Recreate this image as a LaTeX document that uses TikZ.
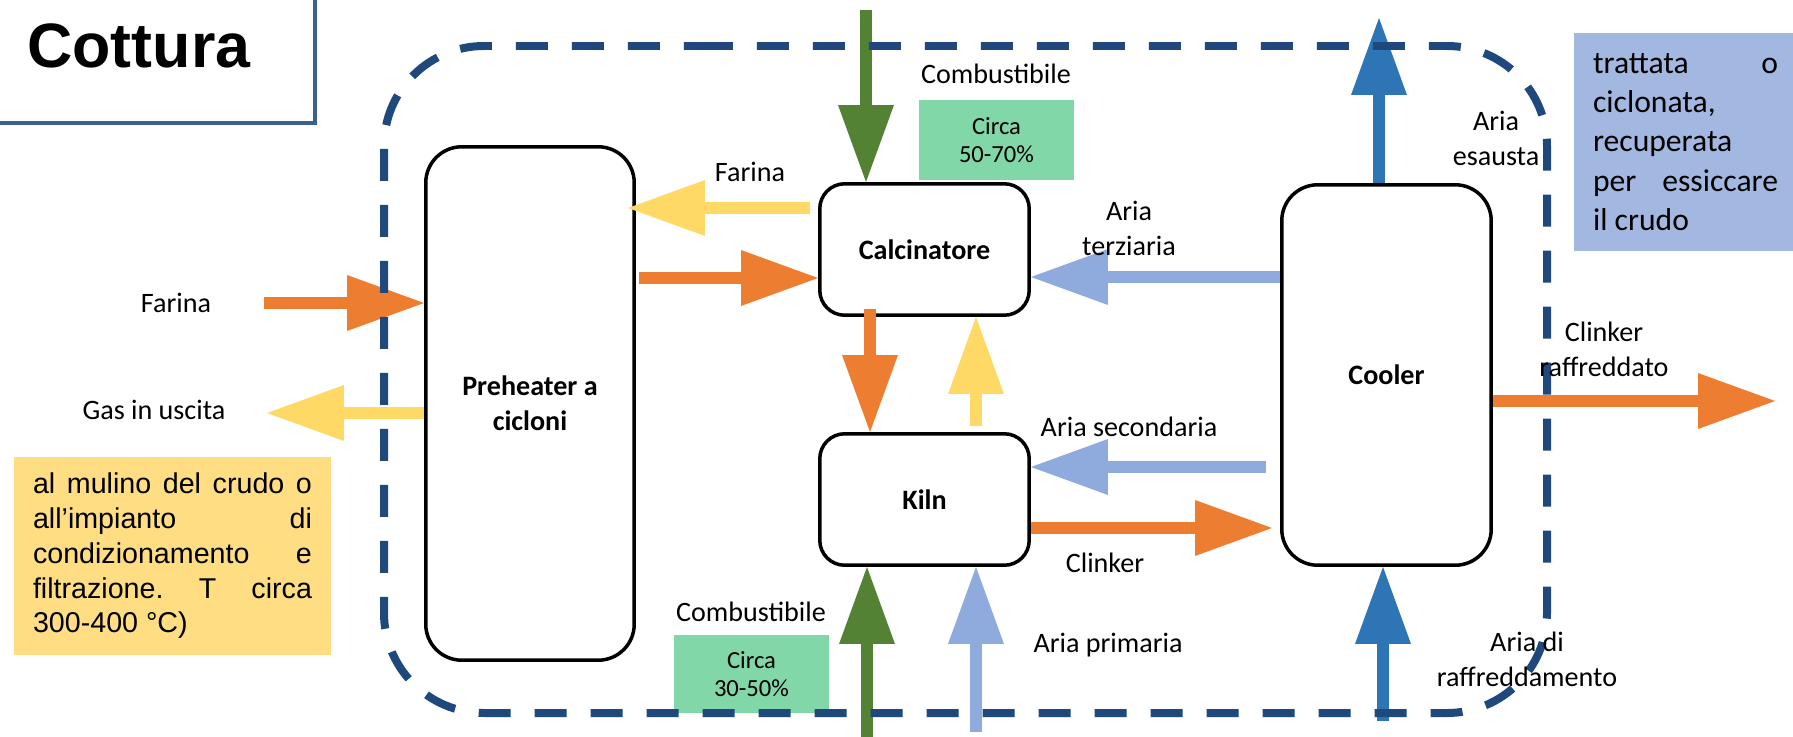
\documentclass[tikz,border=0pt]{standalone}
\usepackage{fontspec}
\setmainfont{Carlito}
\newfontfamily\arialfont{Liberation Sans}
\usetikzlibrary{arrows.meta,calc}
\definecolor{cOrange}{HTML}{ED7D31}
\definecolor{cYellow}{HTML}{FFD966}
\definecolor{cGreen}{HTML}{548235}
\definecolor{cLBlue}{HTML}{8FAADC}
\definecolor{cBlue}{HTML}{2E75B6}
\definecolor{cMint}{HTML}{82D7A8}
\definecolor{cBoxBlue}{HTML}{A3B8E0}
\definecolor{cBoxYellow}{HTML}{FFDE83}
\definecolor{cDash}{RGB}{31,73,125}
\definecolor{cTitle}{RGB}{58,96,146}
\newcommand{\justln}[2]{\makebox[#1][s]{\frenchspacing\spaceskip=.28em plus 1fil\relax #2}}
\tikzset{
  unitbox/.style={draw=black, line width=0.07cm, fill=white, inner sep=0pt,
    font=\bfseries\fontsize{16}{19.8}\selectfont, align=center},
  flow/.style={line width=0.24cm, -{Triangle[length=1.54cm, width=1.12cm, line width=0pt]}},
  lab/.style={inner sep=0pt, align=center, font=\fontsize{16}{19.8}\selectfont},
  mint/.style={fill=cMint, inner sep=0pt, minimum width=3.1cm, minimum height=1.6cm,
    align=center, font=\fontsize{14}{15.9}\selectfont},
  boundary/.style={draw=cDash, line width=0.16cm, dash pattern=on 0.64cm off 0.48cm, rounded corners=2cm},
  titleframe/.style={draw=cTitle, line width=0.08cm}
}
\begin{document}
\begin{tikzpicture}[x=0.02cm,y=-0.02cm]
\useasboundingbox (0,0) rectangle (1793,737);

% title
\draw[titleframe] (-10,123) -- (315,123) -- (315,-10);
\node[anchor=base west, inner sep=0pt, font=\arialfont\bfseries\fontsize{35.7}{40}\selectfont] (title) at (27,67) {Cottura};

% process units
\node[unitbox, rounded corners=0.72cm, minimum width=4.17cm, minimum height=10.27cm] (pre) at (530,403.5) {Preheater a\\cicloni};
\node[unitbox, rounded corners=0.5cm, minimum width=4.19cm, minimum height=2.63cm] (calc) at (924.5,249.5) {Calcinatore};
\node[unitbox, rounded corners=0.5cm, minimum width=4.19cm, minimum height=2.63cm] (kiln) at (924.5,499.5) {Kiln};
\node[unitbox, rounded corners=0.72cm, minimum width=4.19cm, minimum height=7.61cm] (cool) at (1386.5,375) {Cooler};

% note boxes
\node[fill=cBoxYellow, inner xsep=0.38cm, inner ysep=0pt, text width=5.58cm, minimum height=3.96cm,
  align=left, font=\arialfont\fontsize{16.3}{19.8}\selectfont] (ynote) at (172.5,556)
  {\spaceskip=0pt\relax
   \justln{5.58cm}{al mulino del crudo o}\\
   \justln{5.58cm}{all’impianto di}\\
   \justln{5.58cm}{condizionamento e}\\
   \justln{5.58cm}{filtrazione. T circa}\\
   300-400 °C)};
\node[fill=cBoxBlue, inner xsep=0.38cm, inner ysep=0pt, text width=3.7cm, minimum height=4.36cm,
  align=left, font=\fontsize{18}{22.4}\selectfont] (bnote) at (1685.5,142)
  {\spaceskip=0pt\relax
   \justln{3.7cm}{trattata o}\\
   ciclonata,\\
   recuperata\\
   \justln{3.7cm}{per essiccare}\\
   il crudo};
\node[mint] (gTop) at (996.5,140) {Circa\\50-70\%};
\node[mint, minimum height=1.56cm] (gBot) at (751.5,674) {Circa\\30-50\%};

% free ends and levels
\coordinate (farinaIn) at (264,303);
\coordinate (gasOut) at (267,413);
\coordinate (fy) at (0,208);
\coordinate (oy) at (0,278);
\coordinate (ox) at (870,0);
\coordinate (yx) at (976,0);
\coordinate (combTop) at (866,10);
\coordinate (ty) at (0,277);
\coordinate (sy) at (0,467);
\coordinate (cy) at (0,528);
\coordinate (combBot) at (867,745);
\coordinate (primBot) at (976,732);
\coordinate (exTop) at (1379,18);
\coordinate (coolBot) at (1383,721);
\coordinate (clkOut) at (1775,401);

% flows
\draw[flow, cOrange] (farinaIn) -- (farinaIn -| pre.west);
\draw[flow, cYellow] (gasOut -| pre.west) -- (gasOut);
\draw[flow, cYellow, shorten <=0.16cm, shorten >=-0.16cm] (fy -| calc.west) -- (fy -| pre.east);
\draw[flow, cOrange, shorten <=0.06cm] (oy -| pre.east) -- (oy -| calc.west);
\draw[flow, cOrange, shorten <=-0.16cm] (ox |- calc.south) -- (ox |- kiln.north);
\draw[flow, cYellow, shorten <=0.12cm] (yx |- kiln.north) -- (yx |- calc.south);
\draw[flow, cGreen] (combTop) -- (combTop |- calc.north);
\draw[flow, cLBlue] (ty -| cool.west) -- (ty -| calc.east);
\draw[flow, cLBlue, shorten <=0.28cm] (sy -| cool.west) -- (sy -| kiln.east);
\draw[flow, cOrange, shorten >=0.16cm] (cy -| kiln.east) -- (cy -| cool.west);
\draw[flow, cGreen] (combBot) -- (combBot |- kiln.south);
\draw[flow, cLBlue] (primBot) -- (primBot |- kiln.south);
\draw[flow, cBlue] (exTop |- cool.north) -- (exTop);
\draw[flow, cBlue] (coolBot) -- (coolBot |- cool.south);
\draw[flow, cOrange] (clkOut -| cool.east) -- (clkOut);

% system boundary
\draw[boundary] (601,46) -- (1547,46) -- (1547,713) -- (384,713) -- (384,46) -- cycle;

% labels
\node[lab] (lFarinaIn) at (176,303) {Farina};
\node[lab] (lGas) at (154,410) {Gas in uscita};
\node[lab] (lFarinaBack) at (750,172) {Farina};
\node[lab] (lCombTop) at (996,74) {Combustibile};
\node[lab] (lTerz) at (1129,228.5) {Aria\\terziaria};
\node[lab] (lSec) at (1129,427) {Aria secondaria};
\node[lab] (lClk) at (1105,563) {Clinker};
\node[lab] (lCombBot) at (751,612) {Combustibile};
\node[lab] (lPrim) at (1108,645) {Aria primaria};
\node[lab] (lEsa) at (1496,138.5) {Aria\\esausta};
\node[lab] (lClkR) at (1604,349) {Clinker\\raffreddato};
\node[lab] (lRaff) at (1527,659.5) {Aria di\\raffreddamento};
\end{tikzpicture}
\end{document}
